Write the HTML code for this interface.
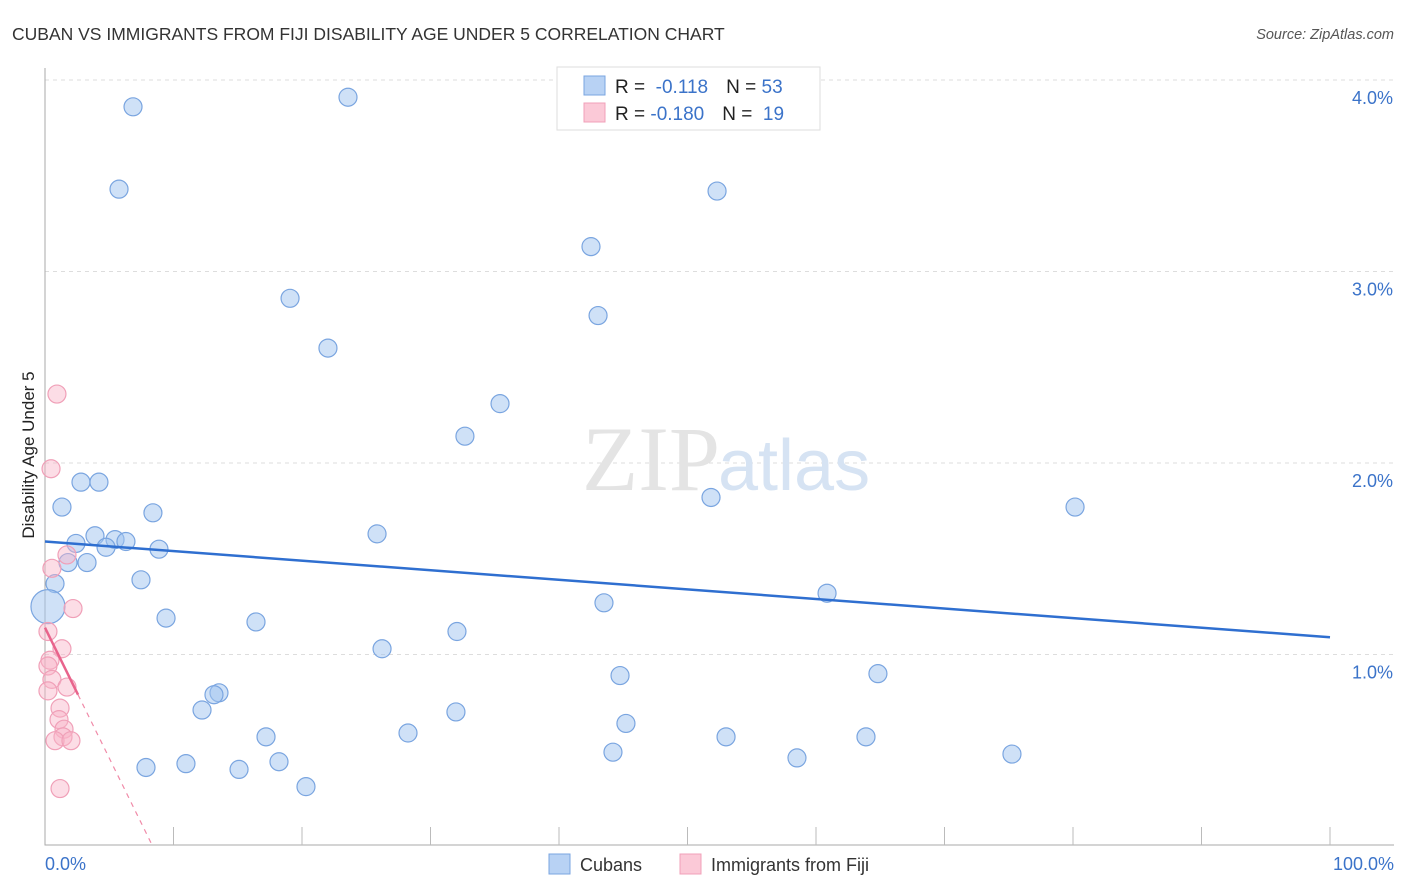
<!DOCTYPE html>
<html><head><meta charset="utf-8"><style>
body{margin:0;background:#fff;font-family:"Liberation Sans",sans-serif}
</style></head><body>
<svg width="1406" height="892" style="display:block">
<text x="12" y="40" font-size="17.5" fill="#333">CUBAN VS IMMIGRANTS FROM FIJI DISABILITY AGE UNDER 5 CORRELATION CHART</text>
<text x="1394" y="39" font-size="14.5" fill="#555" text-anchor="end" font-style="italic">Source: ZipAtlas.com</text>
<g id="grid"></g>
<text x="720" y="490" font-size="92" fill="#e4e4e4" text-anchor="end" font-family="Liberation Serif,serif">ZIP</text>
<text x="718" y="490" font-size="72" fill="#d6e3f3">atlas</text>
<g id="pts"></g>
<text transform="translate(34,455) rotate(-90)" font-size="17" fill="#222" text-anchor="middle">Disability Age Under 5</text>
<text x="45" y="870" font-size="18" fill="#3b73c9">0.0%</text>
<text x="1394" y="870" font-size="18" fill="#3b73c9" text-anchor="end">100.0%</text>
<g>
<rect x="557" y="67" width="263" height="63" fill="#fff" stroke="#ddd"/>
<rect x="584" y="76" width="21" height="19" fill="#b8d2f4" stroke="#7aa5e0"/>
<rect x="584" y="103" width="21" height="19" fill="#fbc9d7" stroke="#f0a0b8"/>
<text x="615" y="93" font-size="19" fill="#222">R = <tspan fill="#3b73c9">&#160;-0.118</tspan><tspan dx="18">N = </tspan><tspan fill="#3b73c9">53</tspan></text>
<text x="615" y="120" font-size="19" fill="#222">R = <tspan fill="#3b73c9">-0.180</tspan><tspan dx="18">N = </tspan><tspan fill="#3b73c9">&#160;19</tspan></text>
</g>
<g>
<rect x="549" y="854" width="21" height="20" fill="#b8d2f4" stroke="#7aa5e0"/>
<text x="580" y="871" font-size="18" fill="#333">Cubans</text>
<rect x="680" y="854" width="21" height="20" fill="#fbc9d7" stroke="#f0a0b8"/>
<text x="711" y="871" font-size="18" fill="#333">Immigrants from Fiji</text>
</g>
</svg>
<script>
const yTicks=[1,2,3,4];
const yTickLabels=["1.0%","2.0%","3.0%","4.0%"];
const cubanX=[6.85,23.58,5.76,52.30,42.49,19.07,43.04,22.02,35.41,32.68,51.83,80.16,2.80,4.20,1.32,8.40,25.84,3.89,2.41,5.45,6.30,4.75,8.87,1.79,3.27,0.78,7.47,0.23,43.50,60.86,9.42,16.42,32.06,26.23,44.75,64.82,13.54,13.15,12.22,31.98,45.21,28.25,17.20,53.00,63.89,44.20,75.25,58.52,18.21,10.97,7.86,15.10,20.31];
const cubanY=[3.86,3.91,3.43,3.42,3.13,2.86,2.77,2.60,2.31,2.14,1.82,1.77,1.90,1.90,1.77,1.74,1.63,1.62,1.58,1.60,1.59,1.56,1.55,1.48,1.48,1.37,1.39,1.25,1.27,1.32,1.19,1.17,1.12,1.03,0.89,0.90,0.80,0.79,0.71,0.70,0.64,0.59,0.57,0.57,0.57,0.49,0.48,0.46,0.44,0.43,0.41,0.40,0.31];
const fijiX=[0.93,0.47,1.71,0.54,2.18,0.23,1.32,0.39,0.23,0.54,0.23,1.71,1.17,1.09,1.48,1.40,0.78,2.02,1.17];
const fijiY=[2.36,1.97,1.52,1.45,1.24,1.12,1.03,0.97,0.94,0.87,0.81,0.83,0.72,0.66,0.61,0.57,0.55,0.55,0.30];
const cubanTrend=[1.59,1.09];
const fijiTrend=[1.14,0.79,2.57];
const NS="http://www.w3.org/2000/svg";
const sx=v=>45+v*12.85, sy=v=>846-v*191.5;
function mk(t,a,p){const e=document.createElementNS(NS,t);for(const k in a)e.setAttribute(k,a[k]);p.appendChild(e);return e;}
const g=document.getElementById('grid');
yTicks.forEach((t,i)=>{
 const l=mk('line',{x1:45,x2:1394,y1:sy(t),y2:sy(t),stroke:'#ddd','stroke-dasharray':'4,4'},g);
 
 
 const tx=mk('text',{x:1393,y:sy(t)+24,'font-size':18,fill:'#3b73c9','text-anchor':'end'},g);
 tx.textContent=yTickLabels[i];
 
 
});
const ax=mk('path',{d:'M45,68V845H1394',stroke:'#aaa',fill:'none'},g);


for(let k=1;k<=10;k++){const t=mk('line',{x1:sx(k*10),x2:sx(k*10),y1:827,y2:845,stroke:'#bbb'},g);
 
 }
const p=document.getElementById('pts');
cubanX.forEach((x,i)=>{const c=mk('circle',{cx:sx(x),cy:sy(cubanY[i]),r:i==27?17:9,fill:'rgba(160,195,240,0.5)',stroke:'#7aa5e0','stroke-width':1.2},p);
 
 });
fijiX.forEach((x,i)=>{const c=mk('circle',{cx:sx(x),cy:sy(fijiY[i]),r:9,fill:'rgba(248,180,200,0.45)',stroke:'#f0a0b8','stroke-width':1.2},p);
 
 });
const bl=mk('line',{x1:sx(0),y1:sy(cubanTrend[0]),x2:sx(100),y2:sy(cubanTrend[1]),stroke:'#2f6fd0','stroke-width':2.5},p);


const slope=(fijiTrend[1]-fijiTrend[0])/fijiTrend[2];
const x0=-fijiTrend[0]/slope;
const pd=mk('line',{x1:sx(fijiTrend[2]),y1:sy(fijiTrend[1]),x2:sx(x0),y2:sy(0),stroke:'#f08aa8','stroke-width':1.2,'stroke-dasharray':'5,5'},p);


const pl=mk('line',{x1:sx(0),y1:sy(fijiTrend[0]),x2:sx(fijiTrend[2]),y2:sy(fijiTrend[1]),stroke:'#e8648c','stroke-width':2.5},p);


</script>
</body></html>
